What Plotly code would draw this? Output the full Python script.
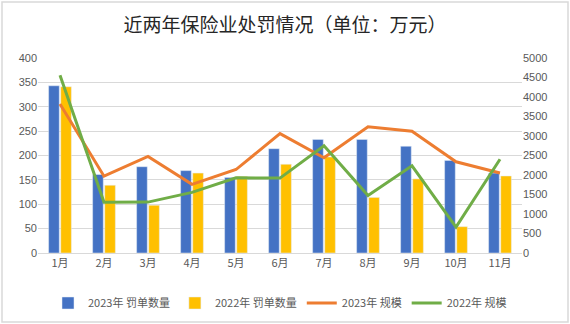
import plotly.graph_objects as go

months = ["1月", "2月", "3月", "4月", "5月", "6月", "7月", "8月", "9月", "10月", "11月"]
count_2023 = [343, 161, 177, 169, 155, 214, 233, 233, 219, 190, 164]
count_2022 = [341, 139, 98, 164, 157, 182, 197, 114, 152, 54, 158]
scale_2023 = [3820, 1970, 2475, 1760, 2140, 3060, 2440, 3235, 3120, 2340, 2050]
scale_2022 = [4555, 1300, 1305, 1555, 1930, 1920, 2750, 1475, 2235, 665, 2405]

font_cjk = "Noto Sans CJK SC"
tick_color = "#595959"

fig = go.Figure()
fig.add_trace(go.Bar(x=months, y=count_2023, name="2023年 罚单数量",
                     marker_color="#4472C4", yaxis="y"))
fig.add_trace(go.Bar(x=months, y=count_2022, name="2022年 罚单数量",
                     marker_color="#FFC000", yaxis="y"))
fig.add_trace(go.Scatter(x=months, y=scale_2023, name="2023年 规模", mode="lines",
                         line=dict(color="#ED7D31", width=3), yaxis="y2"))
fig.add_trace(go.Scatter(x=months, y=scale_2022, name="2022年 规模", mode="lines",
                         line=dict(color="#70AD47", width=3), yaxis="y2"))

fig.update_layout(
    width=570, height=324,
    margin=dict(l=38, r=48, t=58, b=71, autoexpand=False),
    paper_bgcolor="white", plot_bgcolor="white",
    font=dict(family=font_cjk, size=11, color=tick_color),
    title=dict(text="近两年保险业处罚情况（单位：万元）", x=0.5, xanchor="center",
               y=1 - 25 / 324, yanchor="middle",
               font=dict(family=font_cjk, size=19, color="#262626")),
    barmode="group", bargap=0.45, bargroupgap=0.12,
    xaxis=dict(showgrid=False, showline=True, linecolor="#d9d9d9", linewidth=1,
               ticks="", tickfont=dict(size=11, color=tick_color)),
    yaxis=dict(range=[0, 400], dtick=50, showgrid=True, gridcolor="#d9d9d9",
               gridwidth=1, zeroline=False, showline=False, ticks="",
               tickfont=dict(family="Liberation Sans", size=11, color=tick_color)),
    yaxis2=dict(range=[0, 5000], dtick=500, overlaying="y", side="right",
                showgrid=False, zeroline=False, showline=False, ticks="",
                tickfont=dict(family="Liberation Sans", size=11, color=tick_color)),
    legend=dict(orientation="h", x=0.5, xanchor="center",
                yref="container", y=21 / 324, yanchor="middle",
                font=dict(size=11, color=tick_color), itemwidth=30,
                traceorder="normal"),
    showlegend=True,
)

# light frame around the whole chart
fig.add_shape(type="rect", xref="paper", yref="paper",
              x0=-36 / 484, x1=1 + 46 / 484, y0=-69 / 195, y1=1 + 56 / 195,
              line=dict(color="#d9d9d9", width=1.5), fillcolor="rgba(0,0,0,0)",
              layer="below")

fig.write_html("out.html")
